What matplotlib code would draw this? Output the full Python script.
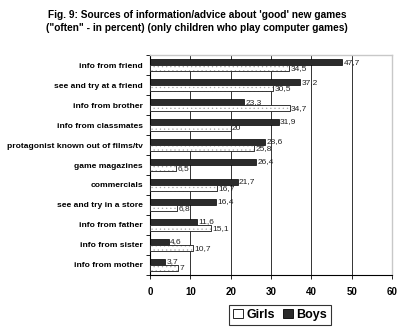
import numpy as np
import matplotlib.pyplot as plt
from matplotlib.patches import Patch

plt.rcParams['font.family'] = ['Liberation Sans', 'DejaVu Sans']
plt.rcParams['hatch.linewidth'] = 0.4

categories = ['info from friend', 'see and try at a friend', 'info from brother',
              'info from classmates', 'protagonist known out of films/tv',
              'game magazines', 'commercials', 'see and try in a store',
              'info from father', 'info from sister', 'info from mother']
boys = [47.7, 37.2, 23.3, 31.9, 28.6, 26.4, 21.7, 16.4, 11.6, 4.6, 3.7]
girls = [34.5, 30.5, 34.7, 20, 25.8, 6.5, 16.7, 6.8, 15.1, 10.7, 7]
xticks = [0, 10, 20, 30, 40, 50, 60]

fig = plt.figure(figsize=(4.10, 3.32), dpi=100)
ax = fig.add_axes([0.366, 0.172, 0.590, 0.662])

y = np.arange(len(categories))
h = 0.3
ax.barh(y - h / 2, boys, height=h, color='#2b2b2b', edgecolor='black',
        linewidth=0.5, zorder=3)
# girls: light dotted fill, then a black outline on top
ax.barh(y + h / 2, girls, height=h, color='white', edgecolor='#aaaaaa',
        linewidth=0.5, hatch='....', zorder=3)
ax.barh(y + h / 2, girls, height=h, fill=False, edgecolor='black',
        linewidth=0.5, zorder=4)

def fmt(v):
    return ('%g' % v).replace('.', ',')

for i in range(len(categories)):
    ax.text(boys[i] + 0.3, y[i] - h / 2, fmt(boys[i]), va='center', ha='left',
            fontsize=6, color='#222222', zorder=5)
    ax.text(girls[i] + 0.3, y[i] + h / 2 + 0.02, fmt(girls[i]), va='center',
            ha='left', fontsize=6, color='#222222', zorder=5)

ax.set_xlim(0, 60)
ax.set_ylim(len(categories) - 0.5, -0.5)
ax.set_xticks(xticks)
ax.set_xticklabels([str(t) for t in xticks], fontsize=7, fontweight='bold')
ax.set_yticks(y)
ax.set_yticklabels(categories, fontsize=6.1, fontweight='bold')
ax.tick_params(axis='y', length=0, pad=5)
ax.set_yticks(np.arange(len(categories) + 1) - 0.5, minor=True)
ax.tick_params(axis='y', which='minor', length=3, width=0.6, direction='out')
ax.tick_params(axis='x', length=3, width=0.6, direction='out', pad=6)
ax.grid(axis='x', color='#333333', linewidth=0.7, zorder=0)

for side in ['top', 'right']:
    ax.spines[side].set_color('#c8c8c8')
    ax.spines[side].set_linewidth(1.0)
ax.spines['left'].set_linewidth(0.8)
ax.spines['bottom'].set_linewidth(0.8)

fig.text(0.48, 0.955, "Fig. 9: Sources of information/advice about 'good' new games",
         ha='center', va='center', fontsize=7.3, fontweight='bold')
fig.text(0.48, 0.915, '("often" - in percent) (only children who play computer games)',
         ha='center', va='center', fontsize=7.3, fontweight='bold')

handles = [Patch(facecolor='white', edgecolor='black', linewidth=0.6, label='Girls'),
           Patch(facecolor='#2b2b2b', edgecolor='black', linewidth=0.6, label='Boys')]
leg = fig.legend(handles=handles, loc='center', bbox_to_anchor=(0.683, 0.052),
                 ncol=2, prop={'weight': 'bold', 'size': 9},
                 frameon=True, fancybox=False, handlelength=0.8, handleheight=0.8,
                 handletextpad=0.3, columnspacing=0.6, borderpad=0.3)
leg.get_frame().set_edgecolor('black')
leg.get_frame().set_linewidth(0.8)

fig.savefig('out.png', dpi=100)
